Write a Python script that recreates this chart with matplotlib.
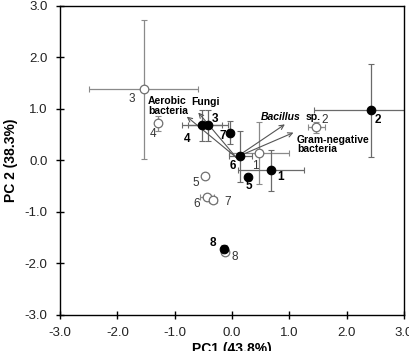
import matplotlib
matplotlib.use("Agg")
import matplotlib.pyplot as plt

plt.rcParams['font.family'] = ['Liberation Sans', 'DejaVu Sans']

# Filled samples (black)
filled_labels = ['1', '2', '3', '4', '5', '6', '7', '8']
filled_x = [0.68, 2.43, -0.42, -0.52, 0.28, 0.14, -0.03, -0.14]
filled_y = [-0.19, 0.97, 0.68, 0.68, -0.33, 0.08, 0.54, -1.72]
filled_xerr = [0.57, 1.0, 0.35, 0.35, 0.0, 0.2, 0.0, 0.03]
filled_yerr = [0.4, 0.9, 0.3, 0.3, 0.0, 0.5, 0.22, 0.07]
filled_lab_x = [0.85, 2.55, -0.30, -0.79, 0.30, 0.02, -0.16, -0.33]
filled_lab_y = [-0.33, 0.78, 0.81, 0.41, -0.50, -0.10, 0.48, -1.61]

# Open samples (white)
open_labels = ['1', '2', '3', '4', '5', '6', '7', '8']
open_x = [0.47, 1.47, -1.54, -1.29, -0.47, -0.44, -0.33, -0.12]
open_y = [0.15, 0.64, 1.38, 0.72, -0.31, -0.72, -0.76, -1.78]
open_xerr = [0.53, 0.15, 0.95, 0.0, 0.0, 0.12, 0.07, 0.0]
open_yerr = [0.6, 0.1, 1.35, 0.15, 0.0, 0.05, 0.05, 0.0]
open_lab_x = [0.40, 1.62, -1.75, -1.38, -0.63, -0.61, -0.07, 0.05]
open_lab_y = [-0.10, 0.78, 1.20, 0.52, -0.43, -0.85, -0.81, -1.88]

# Loading vectors
vec_names = ['Aerobic bacteria', 'Fungi', 'Bacillus sp.', 'Gram-negative bacteria']
vec_x = [-0.79, -0.59, 0.92, 1.07]
vec_y = [0.85, 0.93, 0.70, 0.54]
vec_origin = (0.07, 0.06)

ticks = [-3.0, -2.0, -1.0, 0.0, 1.0, 2.0, 3.0]
tick_labels = ['-3.0', '-2.0', '-1.0', '0.0', '1.0', '2.0', '3.0']

fig = plt.figure(figsize=(4.09, 3.51), dpi=100)
ax = fig.add_axes([0.147, 0.103, 0.841, 0.880])

ax.errorbar(open_x, open_y, xerr=open_xerr, yerr=open_yerr, fmt='none',
            ecolor='#8a8a8a', elinewidth=0.9, capsize=2, capthick=0.8, zorder=2)
ax.errorbar(filled_x, filled_y, xerr=filled_xerr, yerr=filled_yerr, fmt='none',
            ecolor='#6a6a6a', elinewidth=0.9, capsize=2, capthick=0.8, zorder=2)

for vx, vy in zip(vec_x, vec_y):
    ax.annotate('', xy=(vx, vy), xytext=vec_origin,
                arrowprops=dict(arrowstyle='->', color='#555555', lw=0.8,
                                shrinkA=0, shrinkB=0, mutation_scale=8),
                zorder=3)

ax.scatter(open_x, open_y, s=38, facecolor='white', edgecolor='#707070',
           linewidth=0.9, zorder=4)
ax.scatter(filled_x, filled_y, s=38, facecolor='black', edgecolor='black',
           linewidth=0.8, zorder=5)

for t, x, y in zip(filled_labels, filled_lab_x, filled_lab_y):
    ax.text(x, y, t, fontsize=8.5, fontweight='bold', color='black',
            ha='center', va='center', zorder=6)
for t, x, y in zip(open_labels, open_lab_x, open_lab_y):
    ax.text(x, y, t, fontsize=8.5, color='#333333', ha='center', va='center', zorder=6)

ax.text(-1.47, 1.25, 'Aerobic\nbacteria', fontsize=7.5, fontweight='bold',
        ha='left', va='top', linespacing=0.95)
ax.text(-0.72, 1.14, 'Fungi', fontsize=7.5, fontweight='bold', ha='left', va='center')
t_bac = ax.text(0.50, 0.85, 'Bacillus', fontsize=7.5, fontweight='bold',
                style='italic', ha='left', va='center')
fig.canvas.draw()
bb = t_bac.get_window_extent()
x_end = ax.transData.inverted().transform((bb.x1 + 2, bb.y0))[0]
ax.text(x_end, 0.85, 'sp.', fontsize=7.5, fontweight='bold', ha='left', va='center')
ax.text(1.13, 0.50, 'Gram-negative\nbacteria', fontsize=7.5, fontweight='bold',
        ha='left', va='top', linespacing=0.95)

ax.set_xlim(-3.0, 3.0)
ax.set_ylim(-3.0, 3.0)
ax.set_xticks(ticks)
ax.set_xticklabels(tick_labels)
ax.set_yticks(ticks)
ax.set_yticklabels(tick_labels)
ax.tick_params(direction='inout', length=6, width=1, labelsize=9.5, pad=6,
               labelcolor='#222222')
for s in ax.spines.values():
    s.set_linewidth(1.0)
    s.set_color('black')

ax.set_xlabel('PC1 (43.8%)', fontsize=10, fontweight='bold', labelpad=2)
ax.set_ylabel('PC 2 (38.3%)', fontsize=10, fontweight='bold', labelpad=5)

fig.savefig('out.png', dpi=100)
